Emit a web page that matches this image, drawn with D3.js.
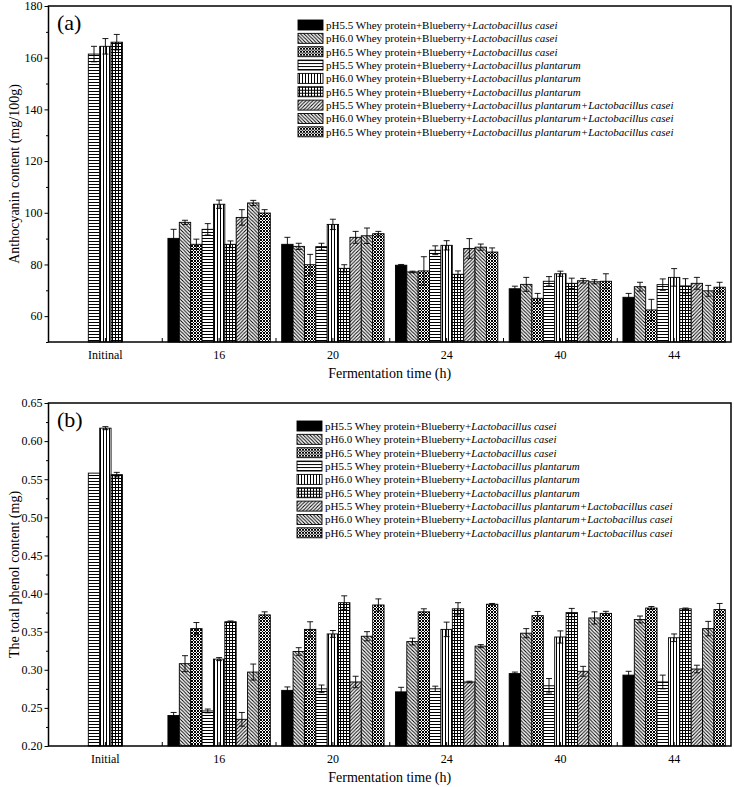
<!DOCTYPE html>
<html>
<head>
<meta charset="utf-8">
<script src="https://cdn.jsdelivr.net/npm/d3@7"></script>
<style>
  body { margin: 0; background: #fff; }
  svg { display: block; font-family: "Liberation Serif", "Times New Roman", serif; }
</style>
</head>
<body>
<svg width="734" height="787"></svg>
<script>
// categories
const categoriesA = ["Initinal", "16", "20", "24", "40", "44"];
const categoriesB = ["Initial", "16", "20", "24", "40", "44"];

// legend labels: upright part + italic part
const seriesPrefix = [
  "pH5.5 Whey protein+Blueberry+", "pH6.0 Whey protein+Blueberry+", "pH6.5 Whey protein+Blueberry+",
  "pH5.5 Whey protein+Blueberry+", "pH6.0 Whey protein+Blueberry+", "pH6.5 Whey protein+Blueberry+",
  "pH5.5 Whey protein+Blueberry+", "pH6.0 Whey protein+Blueberry+", "pH6.5 Whey protein+Blueberry+"
];
const seriesItalic = [
  "Lactobacillus casei", "Lactobacillus casei", "Lactobacillus casei",
  "Lactobacillus plantarum", "Lactobacillus plantarum", "Lactobacillus plantarum",
  "Lactobacillus plantarum+Lactobacillus casei", "Lactobacillus plantarum+Lactobacillus casei",
  "Lactobacillus plantarum+Lactobacillus casei"
];
const seriesPattern = ["solid", "back", "cross", "horiz", "vert", "grid", "fwd", "back", "cross"];

// (a) anthocyanin, mg/100g  [series][category]
const anthoMean = [
  [null, 90.1, 87.8, 79.7, 70.6, 67.3],
  [null, 96.3, 87.0, 77.1, 72.3, 71.4],
  [null, 87.8, 79.9, 77.5, 66.9, 62.4],
  [161.4, 93.6, 86.9, 85.5, 73.5, 72.2],
  [164.4, 103.3, 95.5, 87.4, 76.4, 75.0],
  [166.0, 87.8, 78.5, 76.2, 72.7, 71.7],
  [null, 98.2, 90.5, 86.2, 73.7, 72.7],
  [null, 103.8, 91.1, 86.7, 73.3, 69.8],
  [null, 99.9, 91.9, 84.8, 73.5, 71.2]
];
const anthoErr = [
  [null, 3.5, 2.7, 0.3, 1.0, 1.5],
  [null, 0.8, 1.2, 0.3, 2.7, 1.7],
  [null, 2.0, 4.0, 5.5, 1.9, 4.1],
  [3.0, 2.2, 1.3, 1.7, 1.8, 2.2],
  [3.0, 1.6, 2.0, 1.8, 1.0, 3.4],
  [3.0, 1.3, 1.4, 1.3, 2.0, 2.8],
  [null, 3.0, 2.3, 3.8, 0.9, 2.3],
  [null, 1.0, 3.0, 1.2, 0.8, 2.1],
  [null, 1.3, 0.9, 1.6, 2.9, 1.9]
];

// (b) total phenol, mg
const phenolMean = [
  [null, 0.240, 0.273, 0.271, 0.295, 0.293],
  [null, 0.308, 0.324, 0.337, 0.348, 0.366],
  [null, 0.354, 0.353, 0.376, 0.371, 0.381],
  [0.558, 0.246, 0.275, 0.275, 0.279, 0.284],
  [0.617, 0.314, 0.347, 0.353, 0.343, 0.342],
  [0.556, 0.363, 0.388, 0.380, 0.375, 0.380],
  [null, 0.235, 0.284, 0.284, 0.298, 0.301],
  [null, 0.297, 0.344, 0.331, 0.368, 0.354],
  [null, 0.372, 0.385, 0.386, 0.374, 0.379]
];
const phenolErr = [
  [null, 0.004, 0.0045, 0.006, 0.002, 0.005],
  [null, 0.0105, 0.005, 0.0045, 0.006, 0.0045],
  [null, 0.008, 0.010, 0.004, 0.0055, 0.002],
  [0, 0.0025, 0.005, 0.0035, 0.0095, 0.009],
  [0.002, 0.002, 0.0045, 0.0095, 0.008, 0.005],
  [0.003, 0.001, 0.009, 0.008, 0.0055, 0.001],
  [null, 0.009, 0.0075, 0.001, 0.0065, 0.005],
  [null, 0.0105, 0.006, 0.002, 0.008, 0.0095],
  [null, 0.004, 0.008, 0.001, 0.0027, 0.008]
];

const svg = d3.select("svg");

// hatch patterns
const defs = svg.append("defs");
function pat(id, size, lines) {
  const p = defs.append("pattern")
    .attr("id", id)
    .attr("patternUnits", "userSpaceOnUse")
    .attr("width", size).attr("height", size);
  p.append("rect").attr("width", size).attr("height", size).attr("fill", "#fff");
  lines.forEach(l => {
    p.append("path").attr("d", l).attr("stroke", "#000").attr("stroke-width", 1).attr("fill", "none");
  });
}
pat("horiz", 3, ["M0,1.5H3"]);
pat("vert", 3, ["M1.5,0V3"]);
pat("grid", 3, ["M0,1.5H3", "M1.5,0V3"]);
pat("back", 3.5, ["M0,0L3.5,3.5", "M-1,2.5L1,4.5", "M2.5,-1L4.5,1"]);
pat("fwd", 3.5, ["M0,3.5L3.5,0", "M-1,1L1,-1", "M2.5,4.5L4.5,2.5"]);
pat("cross", 3, ["M0,0L3,3", "M0,3L3,0"]);

function fillOf(i) {
  return seriesPattern[i] === "solid" ? "#000" : `url(#${seriesPattern[i]})`;
}

function panel(opt) {
  const left = 48.5, right = 731;
  const g = svg.append("g");

  const x = d3.scaleBand().domain(opt.categories).range([left, right]);
  const xi = d3.scaleBand().domain(d3.range(9)).range([0, x.bandwidth()]).paddingOuter(0.5);
  const y = d3.scaleLinear().domain(opt.domain).range([opt.bottom, opt.top]);

  // bars
  const cells = [];
  opt.mean.forEach((row, s) => row.forEach((v, c) => {
    if (v != null) cells.push({ s, c, v, e: opt.err[s][c] });
  }));

  g.selectAll("rect.bar").data(cells).enter().append("rect")
    .attr("class", "bar")
    .attr("x", d => x(opt.categories[d.c]) + xi(d.s))
    .attr("width", xi.bandwidth())
    .attr("y", d => y(d.v))
    .attr("height", d => opt.bottom - y(d.v))
    .attr("fill", d => fillOf(d.s))
    .attr("stroke", "#000")
    .attr("stroke-width", 0.9);

  // error bars
  const eb = g.selectAll("g.err").data(cells.filter(d => d.e > 0)).enter().append("g")
    .attr("stroke", "#000").attr("stroke-width", 0.9);
  const cx = d => x(opt.categories[d.c]) + xi(d.s) + xi.bandwidth() / 2;
  eb.append("line")
    .attr("x1", cx).attr("x2", cx)
    .attr("y1", d => y(d.v - d.e)).attr("y2", d => y(d.v + d.e));
  eb.append("line")
    .attr("x1", d => cx(d) - 3).attr("x2", d => cx(d) + 3)
    .attr("y1", d => y(d.v + d.e)).attr("y2", d => y(d.v + d.e));
  eb.append("line")
    .attr("x1", d => cx(d) - 3).attr("x2", d => cx(d) + 3)
    .attr("y1", d => y(d.v - d.e)).attr("y2", d => y(d.v - d.e));

  // frame
  g.append("rect")
    .attr("x", left).attr("y", opt.top)
    .attr("width", right - left).attr("height", opt.bottom - opt.top)
    .attr("fill", "none").attr("stroke", "#000").attr("stroke-width", 1.5);

  // y axis
  const yAxis = g.append("g").attr("transform", `translate(${left},0)`)
    .call(d3.axisLeft(y).tickValues(opt.ticks).tickFormat(opt.format).tickSize(4).tickPadding(2));
  yAxis.select(".domain").remove();
  yAxis.selectAll("text").attr("font-size", 12).attr("font-family", "Liberation Serif").attr("fill", "#000");
  g.append("g").attr("transform", `translate(${left},0)`)
    .call(d3.axisLeft(y).tickValues(opt.minor).tickFormat("").tickSize(2.5))
    .select(".domain").remove();

  // x axis: ticks point inward
  const centers = opt.categories.map(c => x(c) + x.bandwidth() / 2);
  const bounds = opt.categories.slice(1).map(c => x(c));
  g.selectAll("line.xt").data(centers.concat(bounds)).enter().append("line")
    .attr("x1", d => d).attr("x2", d => d)
    .attr("y1", opt.bottom).attr("y2", opt.bottom - 4)
    .attr("stroke", "#000").attr("stroke-width", 1);
  g.selectAll("text.xl").data(opt.categories).enter().append("text")
    .attr("x", c => x(c) + x.bandwidth() / 2)
    .attr("y", opt.bottom + 17)
    .attr("text-anchor", "middle").attr("font-size", 12)
    .text(c => c);

  g.append("text")
    .attr("x", (left + right) / 2).attr("y", opt.bottom + 36)
    .attr("text-anchor", "middle").attr("font-size", 14)
    .text("Fermentation time (h)");

  g.append("text")
    .attr("transform", `translate(19,${(opt.top + opt.bottom) / 2}) rotate(-90)`)
    .attr("text-anchor", "middle").attr("font-size", 14)
    .text(opt.yLabel);

  g.append("text")
    .attr("x", 57).attr("y", opt.top + 24)
    .attr("font-size", 22)
    .text(opt.tag);

  // legend
  const lg = g.append("g").attr("transform", `translate(${opt.legendX},${opt.legendY})`);
  d3.range(9).forEach(i => {
    const row = lg.append("g").attr("transform", `translate(0,${i * 13.35})`);
    row.append("rect")
      .attr("x", 0).attr("y", -5).attr("width", 25).attr("height", 10)
      .attr("fill", fillOf(i)).attr("stroke", "#000").attr("stroke-width", 0.9);
    const t = row.append("text").attr("x", 28).attr("y", 4).attr("font-size", 11);
    t.append("tspan").text(seriesPrefix[i]);
    t.append("tspan").attr("font-style", "italic").text(seriesItalic[i]);
  });
}

panel({
  categories: categoriesA, mean: anthoMean, err: anthoErr,
  domain: [50, 180], top: 6, bottom: 342,
  ticks: d3.range(60, 181, 20), minor: d3.range(50, 181, 20),
  format: d3.format("d"),
  yLabel: "Anthocyanin content (mg/100g)", tag: "(a)",
  legendX: 298, legendY: 25
});

panel({
  categories: categoriesB, mean: phenolMean, err: phenolErr,
  domain: [0.2, 0.65], top: 403, bottom: 746,
  ticks: d3.range(0, 10).map(i => 0.2 + i * 0.05),
  minor: d3.range(0, 9).map(i => 0.225 + i * 0.05),
  format: d3.format(".2f"),
  yLabel: "The total phenol content (mg)", tag: "(b)",
  legendX: 297, legendY: 426
});
</script>
</body>
</html>
